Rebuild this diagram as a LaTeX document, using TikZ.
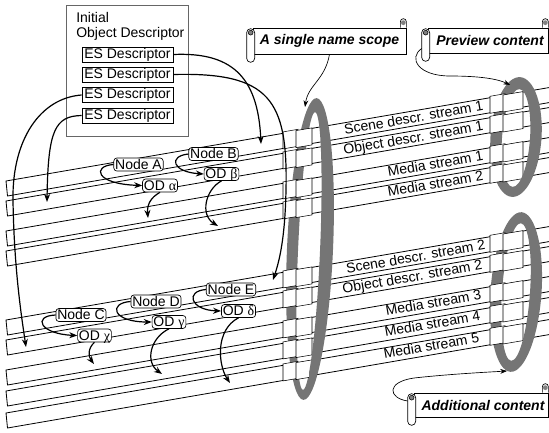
\documentclass[tikz,border=0pt]{standalone}
\usepackage{fontspec}
\setmainfont{Liberation Sans}
\newfontfamily\grk{Liberation Serif}
\usetikzlibrary{arrows.meta,calc}
\begin{document}
\begin{tikzpicture}[x=0.75pt,y=-0.75pt,
  font=\fontsize{10.5}{11.25}\selectfont,
  stream/.style={draw=black, line width=0.6pt, fill=white},
  brick/.style={draw=black, line width=0.4pt, fill=white},
  ringfill/.style={fill=black!54, even odd rule},
  esbox/.style={draw=black, line width=0.5pt, fill=white, minimum width=68.25pt, minimum height=11.25pt, inner sep=0pt},
  objnode/.style={draw=black, line width=0.5pt, rounded corners=2.2pt, fill=white, inner xsep=1pt, inner ysep=0.9pt, text height=7.6pt, text depth=0.3pt},
  arr/.style={-{Stealth[length=6pt,width=4.5pt]}, line width=0.9pt},
  thinarr/.style={-{Stealth[length=5pt,width=3.6pt]}, line width=0.5pt},
  scrollbox/.style={draw=black, line width=0.5pt, fill=white, inner sep=0pt, font=\fontsize{10.5}{11.25}\selectfont\bfseries\itshape},
  lbl/.style={anchor=base east, rotate=9.8, inner sep=0pt}
]
\useasboundingbox (0,0) rectangle (549,432);
\clip (0,0) rectangle (549,432);

% ---- ring back halves
\begin{scope}
  \clip (200,0) rectangle (309,432);
  \fill[ringfill] (310,249) ellipse [x radius=23, y radius=151, rotate=-2.5] (309,251) ellipse [x radius=11, y radius=139, rotate=-2.5];
\end{scope}
\begin{scope}
  \clip (450,0) rectangle (516,432);
  \fill[ringfill] (516,137) ellipse [x radius=25.5, y radius=60, rotate=-4] (516,138) ellipse [x radius=14, y radius=49, rotate=-4];
  \fill[ringfill] (516,292) ellipse [x radius=25.5, y radius=80, rotate=-4] (516,292) ellipse [x radius=14, y radius=69, rotate=-4];
\end{scope}

% ---- streams
\foreach \t in {181,201,231,251,320,340,370,391,413}{
  \draw[stream] (6,\t) -- (600,{\t-102.2}) -- (600,{\t+15-102.2}) -- (7.5,{\t+15}) -- cycle;
  % bricks at the name-scope ring
  \draw[brick] (283,{\t-47.6-1.5}) -- (298,{\t-50.2-1.5}) -- (298,{\t-50.2+15.5}) -- (283,{\t-47.6+15.5}) -- cycle;
  \draw[brick] (296,{\t-49.9-0.5}) -- (312,{\t-52.6-0.5}) -- (312,{\t-52.6+16.5}) -- (296,{\t-49.9+16.5}) -- cycle;
  % bricks at the right rings
  \draw[brick] (490,{\t-83.2-1.5}) -- (505,{\t-85.8-1.5}) -- (505,{\t-85.8+15.5}) -- (490,{\t-83.2+15.5}) -- cycle;
  \draw[brick] (503,{\t-85.5-0.5}) -- (523,{\t-88.9-0.5}) -- (523,{\t-88.9+16.5}) -- (503,{\t-85.5+16.5}) -- cycle;
}

% ---- ring front halves
\begin{scope}
  \clip (309,0) rectangle (400,432);
  \fill[ringfill] (310,249) ellipse [x radius=23, y radius=151, rotate=-2.5] (309,251) ellipse [x radius=11, y radius=139, rotate=-2.5];
\end{scope}
\begin{scope}
  \clip (516,0) rectangle (560,432);
  \fill[ringfill] (516,137) ellipse [x radius=25.5, y radius=60, rotate=-4] (516,138) ellipse [x radius=14, y radius=49, rotate=-4];
  \fill[ringfill] (516,292) ellipse [x radius=25.5, y radius=80, rotate=-4] (516,292) ellipse [x radius=14, y radius=69, rotate=-4];
\end{scope}

% ---- stream labels
\node[lbl] (l1) at (484,110.5) {Scene descr. stream 1};
\node[lbl] (l2) at (484,130.5) {Object descr. stream 1};
\node[lbl] (l3) at (484,160.5) {Media stream 1};
\node[lbl] (l4) at (484,180.5) {Media stream 2};
\node[lbl] (l5) at (486,249.5) {Scene descr. stream 2};
\node[lbl] (l6) at (483,269.5) {Object descr. stream 2};
\node[lbl] (l7) at (482,299.5) {Media stream 3};
\node[lbl] (l8) at (481,320.5) {Media stream 4};
\node[lbl] (l9) at (480,342.5) {Media stream 5};

% ---- initial object descriptor
\node[draw=black!60, line width=0.6pt, fill=white, minimum width=91.5pt, minimum height=98.25pt, inner sep=0pt] (iod) at (127,70.5) {};
\node[anchor=north west, align=left, inner sep=0pt] (iodtext) at (76,12.5) {Initial\\Object Descriptor};
\node[esbox] (es1) at (127.5,54.5) {ES Descriptor};
\node[esbox] (es2) at (127.5,74.5) {ES Descriptor};
\node[esbox] (es3) at (127.5,95) {ES Descriptor};
\node[esbox] (es4) at (127.5,115.5) {ES Descriptor};

% ---- scene nodes and ODs
\node[objnode] (nA) at (138.5,164.5) {Node A};
\node[objnode] (odA) at (160,185.5) {OD {\grk α}};
\node[objnode] (nB) at (213.5,154) {Node B};
\node[objnode] (odB) at (221.5,174) {OD {\grk β}};
\node[objnode] (nC) at (81,315) {Node C};
\node[objnode] (odC) at (94.5,335.5) {OD {\grk χ}};
\node[objnode] (nD) at (156,301.5) {Node D};
\node[objnode] (odD) at (169,322) {OD {\grk γ}};
\node[objnode] (nE) at (231,289.5) {Node E};
\node[objnode] (odE) at (238.5,311) {OD {\grk δ}};

% ---- arrow end points
\coordinate (t1) at (261,144);
\coordinate (t2) at (273,280);
\coordinate (t3) at (26,347);
\coordinate (t4) at (47,202);
\coordinate (ta) at (148,218);
\coordinate (tb) at (218,226);
\coordinate (tc) at (94,364);
\coordinate (td) at (162,374);
\coordinate (te) at (230,383);

% ---- ES arrows
\draw[arr] (es1.east) .. controls (230,52) and (258,75) .. (t1);
\draw[arr] (es2.east) .. controls (270,72) and (288,100) .. (286,190) .. controls (285,240) and (279,262) .. (t2);
\draw[arr] (es3.west) .. controls (40,98) and (12,140) .. (13,200) .. controls (14,270) and (22,320) .. (t3);
\draw[arr] (es4.west) .. controls (55,116) and (48,130) .. (t4);

% ---- node -> OD arrows
\draw[arr] (nA.west) .. controls (92,166) and (95,184) .. (odA.west);
\draw[arr] (nB.west) .. controls (168,156) and (172,172) .. (odB.west);
\draw[arr] (nC.west) .. controls (32,316) and (40,334) .. (odC.west);
\draw[arr] (nD.west) .. controls (108,303) and (112,322) .. (odD.west);
\draw[arr] (nE.west) .. controls (185,291) and (190,310) .. (odE.west);

% ---- OD -> stream arrows
\draw[arr] (odA.south) .. controls (150,198) and (147,205) .. (ta);
\draw[arr] (odB.south) .. controls (205,190) and (200,215) .. (tb);
\draw[arr] (odC.south) .. controls (88,348) and (88,356) .. (tc);
\draw[arr] (odD.south) .. controls (150,338) and (145,362) .. (td);
\draw[arr] (odE.south) .. controls (215,330) and (218,365) .. (te);

% ---- scrolls
\node[scrollbox, minimum width=114.75pt, minimum height=19.5pt] (sc1) at (329.5,41) {A single name scope};
\node[scrollbox, minimum width=90pt, minimum height=18.75pt] (sc2) at (488,40.5) {\hspace{3pt}Preview content};
\node[scrollbox, minimum width=100.5pt, minimum height=18pt] (sc3) at (481,405) {\hspace{3pt}Additional content};

\foreach \s in {sc1,sc2,sc3}{
  \draw[line width=0.5pt, fill=white, rounded corners=3pt] ($(\s.north west)+(-6,1)$) rectangle ($(\s.south west)+(2,8)$);
  \fill[black!50] ($(\s.north west)+(-2,5)$) circle (1.8pt);
  \draw[line width=0.4pt] ($(\s.north west)+(-2,5)$) circle (1.8pt);
  \draw[line width=0.5pt, fill=white] ($(\s.north east)+(-6,0)$) -- ++(0,-6) arc[start angle=180, end angle=0, radius=2.25pt] -- ($(\s.north east)+(0,0)$);
  \fill[black!50] ($(\s.north east)+(-3,-5)$) circle (1.8pt);
}

\coordinate (r1) at (305,107);
\coordinate (r2) at (510,85);
\coordinate (r3) at (507,371);
\draw[thinarr] (sc1.south) .. controls (325,80) and (308,85) .. (r1);
\draw[thinarr] ($(sc2.west)+(-6,8)$) .. controls (408,58) and (418,76) .. (450,76) .. controls (480,76) and (498,79) .. (r2);
\draw[thinarr] ($(sc3.west)+(-6,-4)$) .. controls (388,398) and (386,382) .. (414,378) .. controls (450,374) and (490,372) .. (r3);

\end{tikzpicture}
\end{document}
